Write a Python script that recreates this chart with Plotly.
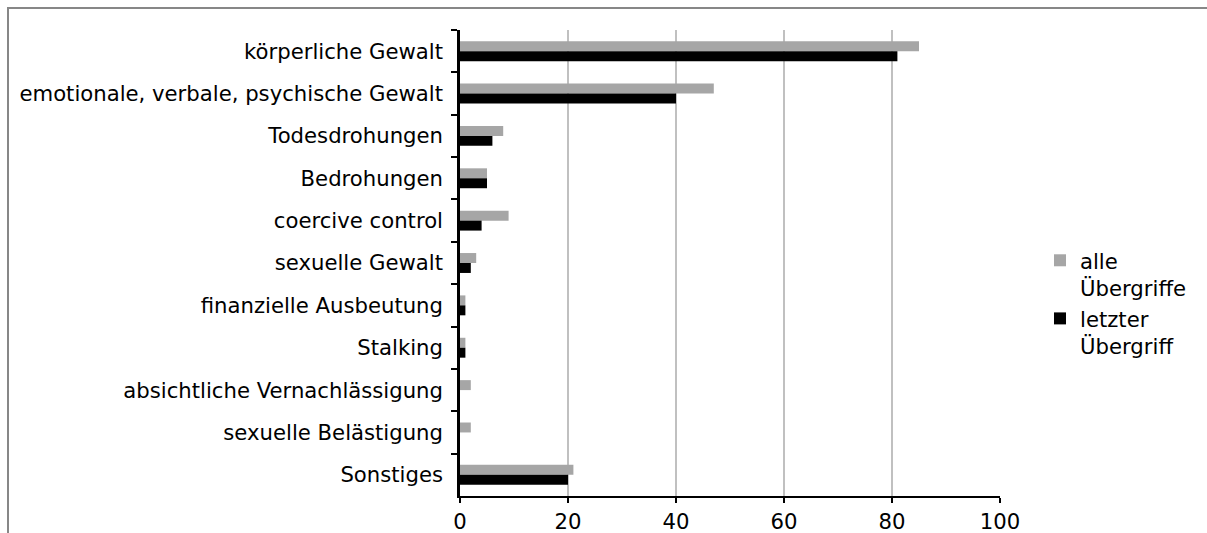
import plotly.graph_objects as go

# Kategorien der Übergriffe (von oben nach unten)
categories = [
    "körperliche Gewalt",
    "emotionale, verbale, psychische Gewalt",
    "Todesdrohungen",
    "Bedrohungen",
    "coercive control",
    "sexuelle Gewalt",
    "finanzielle Ausbeutung",
    "Stalking",
    "absichtliche Vernachlässigung",
    "sexuelle Belästigung",
    "Sonstiges",
]

# Werte je Reihe
alle_uebergriffe = [85, 47, 8, 5, 9, 3, 1, 1, 2, 2, 21]
letzter_uebergriff = [81, 40, 6, 5, 4, 2, 1, 1, 0, 0, 20]

series_names = ["alle<br>Übergriffe", "letzter<br>Übergriff"]
x_ticks = [0, 20, 40, 60, 80, 100]

FONT = "DejaVu Sans, Verdana, sans-serif"
FS = 21.2
W, H = 1207, 533
M_L, M_R, M_T, M_B = 460, 207, 30, 37
PW, PH = W - M_L - M_R, H - M_T - M_B


def px_x(p):
    return (p - M_L) / PW


def px_y(p):
    return (H - M_B - p) / PH


fig = go.Figure()
fig.add_trace(go.Bar(
    y=categories, x=alle_uebergriffe, name=series_names[0],
    orientation="h", marker=dict(color="#a6a6a6", line=dict(width=0)),
))
fig.add_trace(go.Bar(
    y=categories, x=letzter_uebergriff, name=series_names[1],
    orientation="h", marker=dict(color="#000000", line=dict(width=0)),
))

fig.update_layout(
    width=W, height=H,
    margin=dict(l=M_L, r=M_R, t=M_T, b=M_B, pad=0, autoexpand=False),
    paper_bgcolor="white", plot_bgcolor="white",
    barmode="group", bargap=0.53, bargroupgap=0,
    font=dict(family=FONT, size=FS, color="#000000"),
    legend=dict(
        x=px_x(1040), y=px_y(240), xanchor="left", yanchor="top",
        font=dict(family=FONT, size=FS, color="#000000"),
        itemwidth=30, tracegroupgap=0, valign="top",
        bgcolor="rgba(0,0,0,0)",
    ),
    xaxis=dict(
        range=[0, 100], tickvals=x_ticks, ticktext=[str(v) for v in x_ticks],
        showgrid=True, gridcolor="#c0c0c0", gridwidth=1.5, zeroline=False,
        showline=True, linecolor="#000000", linewidth=2,
        ticks="outside", ticklen=5, tickwidth=2, tickcolor="#000000",
        ticklabelstandoff=1, automargin=False,
    ),
    yaxis=dict(
        categoryorder="array", categoryarray=categories, autorange="reversed",
        showgrid=False, zeroline=False,
        showline=True, linecolor="#000000", linewidth=2.5,
        ticks="outside", tickson="boundaries", ticklen=6, tickwidth=2,
        tickcolor="#000000", ticklabelstandoff=10, automargin=False,
    ),
    shapes=[dict(
        type="rect", xref="paper", yref="paper", layer="below",
        x0=px_x(8), x1=px_x(W + 20), y0=px_y(H + 20), y1=px_y(8),
        line=dict(color="#878787", width=2), fillcolor="rgba(0,0,0,0)",
    )],
)

fig.write_html("out.html")
